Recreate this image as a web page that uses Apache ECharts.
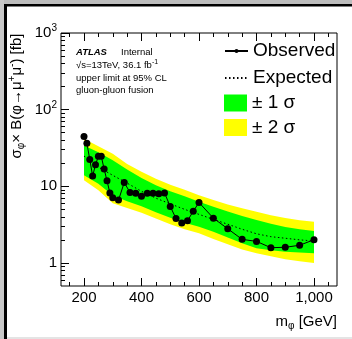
<!DOCTYPE html>
<html>
<head>
<meta charset="utf-8">
<script src="https://cdn.jsdelivr.net/npm/echarts@6/dist/echarts.min.js"></script>
<style>
  html, body { margin: 0; padding: 0; background: #fff; }
  #chart { width: 352px; height: 339px; }
</style>
</head>
<body>
<div id="chart"></div>
<script>
// observed limit (points)
const massObs = [200, 210, 220, 230, 240, 250, 260, 270, 280, 290, 300, 320, 340, 360, 380, 400, 420, 440, 460, 480,
  500, 520, 540, 560, 580, 600, 650, 700, 750, 800, 850, 900, 950, 1000];
const observed = [44.6, 36.5, 22.4, 13.6, 19.1, 24.6, 24.6, 16.8, 11.8, 8.2, 7.1, 6.6, 11.2, 8.3, 8.1, 7.4, 8.1, 8.1, 8.0, 8.2,
  5.45, 3.8, 3.31, 3.55, 4.73, 6.14, 3.84, 2.79, 2.03, 1.91, 1.58, 1.6, 1.7, 2.01];

// expected limit and bands
const massExp = [200, 250, 300, 350, 400, 450, 500, 550, 600, 650, 700, 750, 800, 850, 900, 950, 1000];
const expected = [24.8, 17.8, 13.9, 11.0, 8.6, 7.0, 5.9, 5.0, 4.3, 3.7, 3.2, 2.75, 2.4, 2.2, 2.1, 2.0, 1.93];
const sigma1Up = [34, 27.9, 21.8, 16.5, 12.8, 10.3, 8.6, 7.4, 6.3, 5.4, 4.7, 4.1, 3.62, 3.25, 2.95, 2.75, 2.6];
const sigma1Down = [13.9, 10.8, 7.6, 6.4, 5.5, 4.6, 3.9, 3.35, 2.96, 2.55, 2.15, 1.8, 1.55, 1.46, 1.4, 1.37, 1.34];
const sigma2Up = [41.6, 33.4, 26.6, 19.5, 15.5, 12.5, 10.5, 9.0, 7.64, 6.6, 5.8, 5.15, 4.64, 4.2, 3.85, 3.6, 3.44];
const sigma2Down = [12, 8.9, 6.0, 5.2, 4.5, 3.8, 3.2, 2.75, 2.43, 2.05, 1.75, 1.5, 1.34, 1.22, 1.12, 1.05, 1.0];

// ticks
const xMajor = [200, 400, 600, 800, 1000];
const xMinor = [150, 250, 300, 350, 450, 500, 550, 650, 700, 750, 850, 900, 950, 1050];
const yMajor = [1, 10, 100, 1000];
const yMinor = [0.6, 0.7, 0.8, 0.9, 2, 3, 4, 5, 6, 7, 8, 9, 20, 30, 40, 50, 60, 70, 80, 90,
  200, 300, 400, 500, 600, 700, 800, 900];

const FONT = 'Liberation Sans, Arial, sans-serif';
const chart = echarts.init(document.getElementById('chart'), null, { renderer: 'canvas' });

// band polygon, upper edge then lower edge reversed
function bandSeries(name, color, up, down) {
  return {
    name: name,
    type: 'custom',
    xAxisIndex: 0,
    yAxisIndex: 0,
    itemStyle: { color: color },
    silent: true,
    data: [0],
    renderItem: function (params, api) {
      const pts = [];
      for (let i = 0; i < massExp.length; i++) pts.push(api.coord([massExp[i], up[i]]));
      for (let i = massExp.length - 1; i >= 0; i--) pts.push(api.coord([massExp[i], down[i]]));
      return { type: 'polygon', shape: { points: pts }, style: { fill: color } };
    }
  };
}

function xAxisOf(pos, ticks, len, labels) {
  return {
    type: 'value', min: 120, max: 1080, position: pos,
    axisLine: { show: false }, splitLine: { show: false },
    axisTick: { show: true, inside: true, length: len, customValues: ticks, lineStyle: { color: '#000', width: 1 } },
    axisLabel: labels ? { show: true, customValues: ticks, margin: 4, color: '#000', fontSize: 15, fontFamily: FONT }
      : { show: false }
  };
}

function yAxisOf(ticks, len, labels) {
  return {
    type: 'log', logBase: 10, min: 0.5, max: 1000, position: 'left',
    axisLine: { show: false }, splitLine: { show: false }, minorTick: { show: false },
    axisTick: { show: true, inside: true, length: len, customValues: ticks, lineStyle: { color: '#000', width: 1 } },
    axisLabel: labels ? {
      show: true, customValues: ticks, margin: 4, color: '#000', fontSize: 15, fontFamily: FONT,
      formatter: function (v) {
        const e = Math.round(Math.log10(v));
        if (e < 2) return '{b|' + Math.round(v) + '}';
        return '{b|10}{s|' + e + '}';
      },
      rich: {
        b: { fontSize: 15, fontFamily: FONT, color: '#000' },
        s: { fontSize: 10, fontFamily: FONT, color: '#000', padding: [0, 0, 9, 0] }
      }
    } : { show: false }
  };
}

const option = {
  animation: false,
  backgroundColor: '#fff',
  grid: {
    left: 61, top: 33, right: 15, bottom: 53,
    show: true, borderColor: '#000', borderWidth: 1, backgroundColor: 'transparent',
    outerBoundsMode: 'none'
  },
  xAxis: [
    xAxisOf('bottom', xMajor, 8, true),
    xAxisOf('bottom', xMinor, 4, false),
    xAxisOf('top', xMajor, 8, false),
    xAxisOf('top', xMinor, 4, false)
  ],
  yAxis: [
    yAxisOf(yMajor, 8, true),
    yAxisOf(yMinor, 4, false)
  ],
  legend: [
    {
      left: 219, top: 36, orient: 'vertical',
      itemWidth: 23, itemHeight: 5, itemGap: 7,
      textStyle: { fontSize: 19, fontFamily: FONT, color: '#000', lineHeight: 20 },
      selectedMode: false,
      data: [
        { name: 'Observed' },
        { name: 'Expected', itemStyle: { opacity: 0 } }
      ]
    },
    {
      left: 219, top: 88, orient: 'vertical',
      itemWidth: 23, itemHeight: 17, itemGap: 4.5,
      textStyle: { fontSize: 19, fontFamily: FONT, color: '#000', lineHeight: 20 },
      selectedMode: false,
      data: [
        { name: '± 1 σ', icon: 'rect' },
        { name: '± 2 σ', icon: 'rect' }
      ]
    }
  ],
  graphic: [
    // canvas surroundings
    { type: 'rect', shape: { x: 0, y: 0, width: 352, height: 4 }, style: { fill: '#bdbdbd' }, z: 100 },
    { type: 'rect', shape: { x: 0, y: 0, width: 4, height: 339 }, style: { fill: '#c8c8c8' }, z: 100 },
    { type: 'rect', shape: { x: 4, y: 4, width: 348, height: 2.5 }, style: { fill: '#000' }, z: 100 },
    { type: 'rect', shape: { x: 4, y: 4, width: 3, height: 335 }, style: { fill: '#000' }, z: 100 },
    { type: 'rect', shape: { x: 7, y: 337, width: 345, height: 2 }, style: { fill: '#e4e4e4' }, z: 100 },
    // labels in the plot
    {
      type: 'text', x: 76, y: 52, z: 100,
      style: { text: 'ATLAS', fontSize: 9.5, fontWeight: 'bold', fontStyle: 'italic', fontFamily: FONT, fill: '#000', verticalAlign: 'middle' }
    },
    {
      type: 'text', x: 121, y: 52, z: 100,
      style: { text: 'Internal', fontSize: 9.5, fontFamily: FONT, fill: '#000', verticalAlign: 'middle' }
    },
    {
      type: 'text', x: 76, y: 65, z: 100,
      style: {
        text: '√s=13TeV, 36.1 fb{s|-1}', fontSize: 9.5, fontFamily: FONT, fill: '#000', verticalAlign: 'middle',
        rich: { s: { fontSize: 7, fontFamily: FONT, fill: '#000', padding: [0, 0, 6, 0] } }
      }
    },
    {
      type: 'text', x: 76, y: 78, z: 100,
      style: { text: 'upper limit at 95% CL', fontSize: 9.5, fontFamily: FONT, fill: '#000', verticalAlign: 'middle' }
    },
    {
      type: 'text', x: 76, y: 90, z: 100,
      style: { text: 'gluon-gluon fusion', fontSize: 9.5, fontFamily: FONT, fill: '#000', verticalAlign: 'middle' }
    },
    // axis titles
    {
      type: 'text', x: 17, y: 96, rotation: Math.PI / 2, z: 100,
      style: {
        text: 'σ{sb|φ}× B(φ→μ{sp|+}μ{sp|-}) [fb]', fontSize: 15, fontFamily: FONT, fill: '#000',
        align: 'center', verticalAlign: 'middle',
        rich: {
          sb: { fontSize: 10, fontFamily: FONT, fill: '#000', padding: [8, 0, 0, 0] },
          sp: { fontSize: 10, fontFamily: FONT, fill: '#000', padding: [0, 0, 9, 0] }
        }
      }
    },
    {
      type: 'text', x: 337, y: 322, z: 100,
      style: {
        text: 'm{sb|φ} [GeV]', fontSize: 15, fontFamily: FONT, fill: '#000',
        align: 'right', verticalAlign: 'middle',
        rich: { sb: { fontSize: 10, fontFamily: FONT, fill: '#000', padding: [8, 0, 0, 0] } }
      }
    }
  ],
  series: [
    bandSeries('± 2 σ', '#ffff00', sigma2Up, sigma2Down),
    bandSeries('± 1 σ', '#00ff00', sigma1Up, sigma1Down),
    {
      name: 'Expected', type: 'line', xAxisIndex: 0, yAxisIndex: 0,
      data: massExp.map((m, i) => [m, expected[i]]),
      symbol: 'none', silent: true,
      lineStyle: { color: '#000', width: 1, type: [1.5, 2.5] },
      itemStyle: { color: '#000' }
    },
    {
      name: 'Observed', type: 'line', xAxisIndex: 0, yAxisIndex: 0,
      data: massObs.map((m, i) => [m, observed[i]]),
      symbol: 'circle', symbolSize: 7, showSymbol: true, silent: true,
      lineStyle: { color: '#000', width: 1 },
      itemStyle: { color: '#000' }
    }
  ]
};

chart.setOption(option);
</script>
</body>
</html>
